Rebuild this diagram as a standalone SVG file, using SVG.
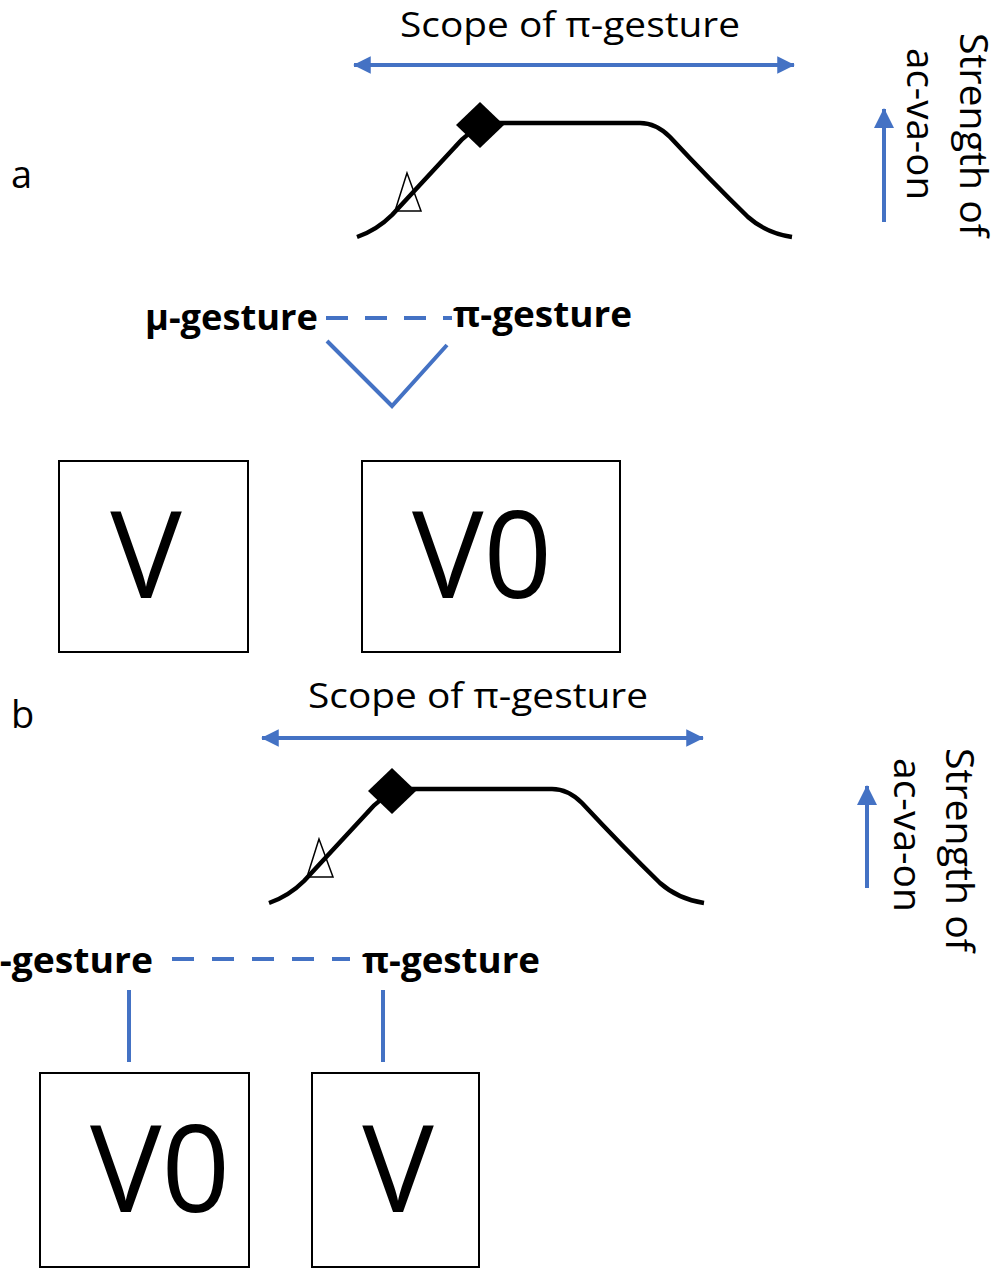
<svg xmlns="http://www.w3.org/2000/svg" width="1000" height="1269" viewBox="0 0 1000 1269">
<style>
.t{font-family:"Open Sans","Noto Sans","Liberation Sans",sans-serif;fill:#000}
.scope{font-size:35px}
.lbl{font-size:38px}
.vert{font-size:38px}
.gest{font-size:36px;font-weight:bold}
.big{font-size:120px;text-anchor:middle}
.box{fill:#fff;stroke:#000;stroke-width:2}
.blue{stroke:#4472C4;stroke-width:4;fill:none}
.dash{stroke:#4472C4;stroke-width:4;fill:none;stroke-dasharray:22 17}
.curve{fill:none;stroke:#000;stroke-width:4.5;stroke-linejoin:round}
.tri{fill:none;stroke:#000;stroke-width:1.5}
</style>
<defs>
<marker id="ah" viewBox="0 0 10 10" refX="9.5" refY="5" markerWidth="4.6" markerHeight="4.4" orient="auto-start-reverse" markerUnits="strokeWidth">
<path d="M0,0 L10,5 L0,10 z" fill="#4472C4"/>
</marker>
<marker id="ahv" viewBox="0 0 10 10" refX="9.5" refY="5" markerWidth="5.2" markerHeight="5" orient="auto" markerUnits="strokeWidth">
<path d="M0,0 L10,5 L0,10 z" fill="#4472C4"/>
</marker>
<g id="gesture-shape">
<path class="curve" d="M-123,112 Q-103,105 -88,90 L-25,22 Q-12,6 8,-2 L160,-2 Q176,-2 190,12 Q230,55 268,92 Q286,108 312,112"/>
<polygon points="-73,48 -85,86 -59,86" class="tri"/>
<polygon points="0,-23 24,0 0,23 -24,0" fill="#000"/>
</g>
</defs>

<!-- Panel a -->
<g id="label-a"><text class="t lbl" x="11" y="188">a</text></g>
<g id="scope-a">
<text class="t scope" x="400" y="37" textLength="340" lengthAdjust="spacingAndGlyphs">Scope of π-gesture</text>
</g>
<g id="curve-a"><use href="#gesture-shape" transform="translate(480,125)"/></g>
<g id="strength-a">
<text class="t vert" transform="translate(960,33) rotate(90)" textLength="204" lengthAdjust="spacingAndGlyphs">Strength of</text>
<text class="t vert" transform="translate(907,48) rotate(90)" textLength="152" lengthAdjust="spacingAndGlyphs">ac-va-on</text>
</g>
<g id="mu-a"><text class="t gest" x="145" y="330" textLength="173" lengthAdjust="spacingAndGlyphs">μ-gesture</text></g>
<g id="pi-a"><text class="t gest" x="453" y="327" textLength="179" lengthAdjust="spacingAndGlyphs">π-gesture</text></g>
<g id="box-V-a">
<rect class="box" x="59" y="461" width="189" height="191"/>
<text class="t big" x="146" y="598">V</text>
</g>
<g id="box-V0-a">
<rect class="box" x="362" y="461" width="258" height="191"/>
<text class="t big" x="482" y="598">V0</text>
</g>

<!-- Panel b -->
<g id="label-b"><text class="t lbl" x="11" y="728">b</text></g>
<g id="scope-b">
<text class="t scope" x="308" y="708" textLength="340" lengthAdjust="spacingAndGlyphs">Scope of π-gesture</text>
</g>
<g id="curve-b"><use href="#gesture-shape" transform="translate(392,791)"/></g>
<g id="strength-b">
<text class="t vert" transform="translate(946,748) rotate(90)" textLength="204" lengthAdjust="spacingAndGlyphs">Strength of</text>
<text class="t vert" transform="translate(894,758) rotate(90)" textLength="154" lengthAdjust="spacingAndGlyphs">ac-va-on</text>
</g>
<g id="mu-b"><text class="t gest" x="-25" y="973" textLength="178" lengthAdjust="spacingAndGlyphs">μ-gesture</text></g>
<g id="pi-b"><text class="t gest" x="362" y="973" textLength="178" lengthAdjust="spacingAndGlyphs">π-gesture</text></g>
<g id="box-V0-b">
<rect class="box" x="40" y="1073" width="209" height="194"/>
<text class="t big" x="160" y="1212">V0</text>
</g>
<g id="box-V-b">
<rect class="box" x="312" y="1073" width="167" height="194"/>
<text class="t big" x="398" y="1212">V</text>
</g>

<!-- Connectors -->
<g id="connectors">
<line class="blue" x1="354" y1="65" x2="794" y2="65" marker-start="url(#ah)" marker-end="url(#ah)"/>
<line class="blue" x1="884" y1="222" x2="884" y2="109" stroke-width="5" marker-end="url(#ahv)"/>
<line class="dash" x1="326" y1="318" x2="452" y2="318"/>
<polyline class="blue" points="327,341 392,406 447,345"/>

<line class="blue" x1="262" y1="738" x2="703" y2="738" marker-start="url(#ah)" marker-end="url(#ah)"/>
<line class="blue" x1="867" y1="888" x2="867" y2="786" stroke-width="5" marker-end="url(#ahv)"/>
<line class="dash" x1="172" y1="959" x2="350" y2="959" style="stroke-dasharray:22 18"/>
<line class="blue" x1="129" y1="990" x2="129" y2="1062"/>
<line class="blue" x1="383" y1="990" x2="383" y2="1062"/>
</g>
</svg>
